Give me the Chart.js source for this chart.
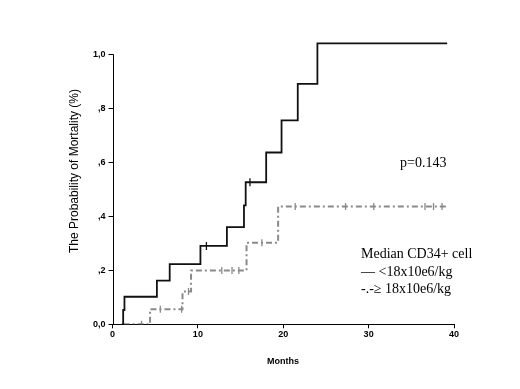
<!DOCTYPE html>
<html>
<head>
<meta charset="utf-8">
<script src="https://cdn.jsdelivr.net/npm/chart.js@4.4.1/dist/chart.umd.min.js"></script>
<style>
html,body{margin:0;padding:0;background:#fff;}
#wrap{width:520px;height:389px;position:relative;}
</style>
</head>
<body>
<div id="wrap"><canvas id="c" width="520" height="389"></canvas></div>
<script>
// Months at which each curve changes, and cumulative mortality after the change
const lowTimes  = [1.1, 1.25, 1.4, 5.2, 6.7, 10.3, 13.4, 15.4, 15.6, 18.0, 19.8, 21.7, 24.0, 39.2];
const lowValues = [0, 0.053, 0.102, 0.162, 0.223, 0.29, 0.36, 0.44, 0.526, 0.636, 0.755, 0.89, 1.04, 1.04];
const lowCensorTimes  = [11.0, 16.1];
const lowCensorValues = [0.29, 0.526];

const highTimes  = [1.3, 4.4, 8.2, 9.2, 15.7, 19.4, 39.2];
const highValues = [0, 0.056, 0.121, 0.199, 0.302, 0.436, 0.436];
const highCensorTimes  = [3.4, 5.6, 8.1, 8.9, 12.8, 14.0, 14.8, 17.5, 21.4, 27.3, 30.6, 36.6, 37.6, 38.6];
const highCensorValues = [0, 0.056, 0.056, 0.121, 0.199, 0.199, 0.199, 0.302, 0.436, 0.436, 0.436, 0.436, 0.436, 0.436];

const xTicks = [0, 10, 20, 30, 40];
const yTicks = [0, 0.2, 0.4, 0.6, 0.8, 1.0];
const yTickLabels = ["0,0", ",2", ",4", ",6", ",8", "1,0"];

const pValue = "p=0.143";
const legendLines = ["Median CD34+ cell", "\u2014 <18x10e6/kg", "-.-\u2265 18x10e6/kg"];
const yTitle = "The Probability of Mortality (%)";
const xTitle = "Months";

const pts = (xs, ys) => xs.map((x, i) => ({x: x, y: ys[i]}));

const annot = {
  id: 'annot',
  afterDraw(chart) {
    const ctx = chart.ctx;
    const ys = chart.scales.y, xs = chart.scales.x;
    ctx.save();
    // y axis line from 0 to 1.0
    ctx.strokeStyle = '#000';
    ctx.lineWidth = 1;
    const ax = Math.round(xs.getPixelForValue(0)) + 0.5;
    ctx.beginPath();
    ctx.moveTo(ax, ys.getPixelForValue(0));
    ctx.lineTo(ax, ys.getPixelForValue(1.0));
    ctx.stroke();
    ctx.fillStyle = '#000';
    ctx.font = '14px "Liberation Serif", "Times New Roman", serif';
    ctx.textBaseline = 'middle';
    ctx.textAlign = 'left';
    ctx.fillText(pValue, 400, 163);
    ctx.fillText(legendLines[0], 361, 254);
    ctx.fillText(legendLines[1], 361, 272);
    ctx.fillText(legendLines[2], 361, 289);
    // axis titles
    ctx.font = '12px "Liberation Sans", Arial, sans-serif';
    ctx.textAlign = 'center';
    ctx.save();
    ctx.translate(75, 171);
    ctx.rotate(-Math.PI / 2);
    ctx.fillText(yTitle, 0, 0);
    ctx.restore();
    ctx.font = 'bold 9px "Liberation Sans", Arial, sans-serif';
    ctx.fillText(xTitle, 283, 362);
    ctx.restore();
  }
};

new Chart(document.getElementById('c'), {
  type: 'scatter',
  data: {
    datasets: [
      {
        data: pts(lowTimes, lowValues), showLine: true, stepped: 'before',
        borderColor: '#111', borderWidth: 1.8, pointRadius: 0, fill: false
      },
      {
        data: pts(highTimes, highValues), showLine: true, stepped: 'before',
        borderColor: '#8a8a8a', borderWidth: 2, borderDash: [6, 3, 2, 3], pointRadius: 0, fill: false
      },
      {
        data: pts(lowCensorTimes, lowCensorValues), showLine: false,
        pointStyle: 'line', rotation: 90, radius: 4, borderColor: '#111', borderWidth: 1.3
      },
      {
        data: pts(highCensorTimes, highCensorValues), showLine: false,
        pointStyle: 'line', rotation: 90, radius: 3.5, borderColor: '#8a8a8a', borderWidth: 1.3
      }
    ]
  },
  options: {
    responsive: false,
    animation: false,
    layout: {padding: {top: 38, right: 66, left: 64, bottom: 0}},
    plugins: {legend: {display: false}, tooltip: {enabled: false}},
    scales: {
      x: {
        type: 'linear', min: 0, max: 40,
        afterFit: (s) => { s.height = 64.7; },
        afterBuildTicks: (s) => { s.ticks = xTicks.map(v => ({value: v})); },
        ticks: {color: '#000', font: {size: 9, weight: 'bold', family: '"Liberation Sans", Arial, sans-serif'}, padding: 1, maxRotation: 0},
        grid: {display: true, drawOnChartArea: false, tickLength: 4, color: '#000'},
        border: {display: true, color: '#000', width: 1}
      },
      y: {
        type: 'linear', min: 0, max: 1.06,
        afterFit: (s) => { s.width = 48.5; },
        afterBuildTicks: (s) => { s.ticks = yTicks.map(v => ({value: v})); },
        ticks: {color: '#000', font: {size: 9, weight: 'bold', family: '"Liberation Sans", Arial, sans-serif'}, padding: 3,
          callback: (v) => { const i = yTicks.findIndex(t => Math.abs(t - v) < 1e-6); return i >= 0 ? yTickLabels[i] : ''; }},
        grid: {display: true, drawOnChartArea: false, tickLength: 4, color: '#000'},
        border: {display: false}
      }
    }
  },
  plugins: [annot]
});
</script>
</body>
</html>
